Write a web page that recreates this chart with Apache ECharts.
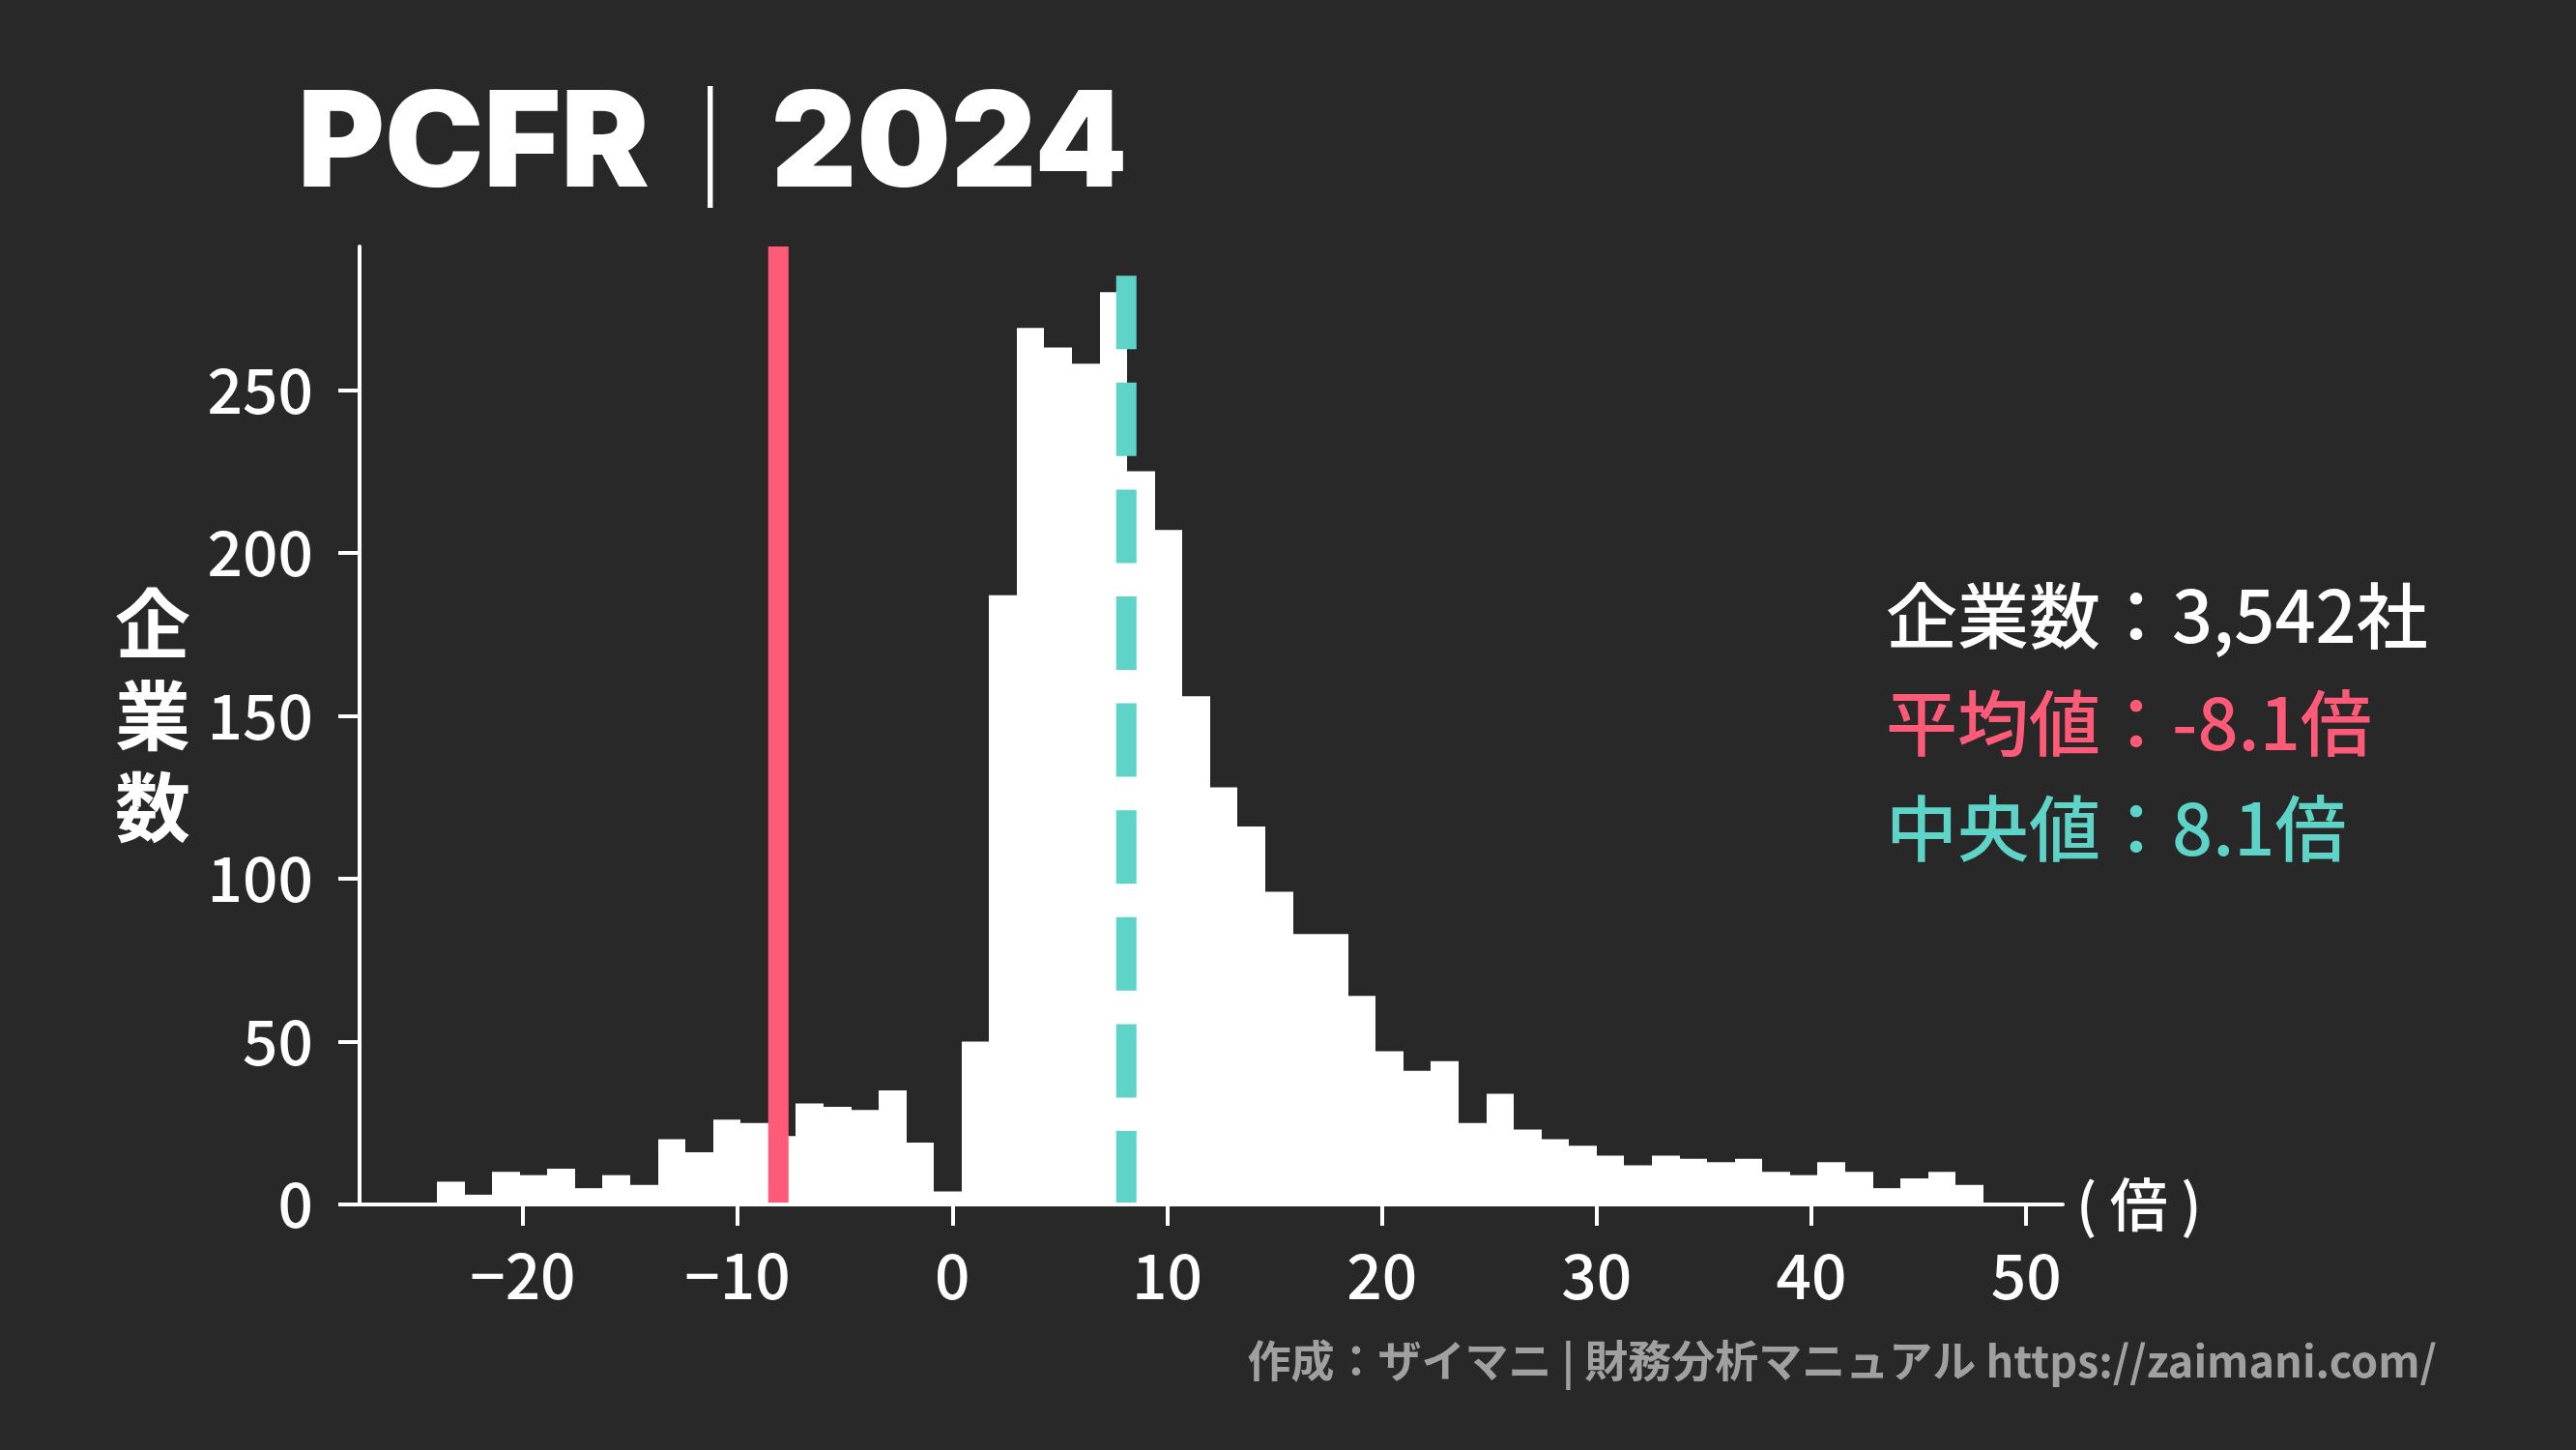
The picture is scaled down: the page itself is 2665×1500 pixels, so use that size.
<!DOCTYPE html>
<html>
<head>
<meta charset="utf-8">
<script src="https://cdn.jsdelivr.net/npm/echarts@6/dist/echarts.min.js"></script>
<style>
html,body{margin:0;padding:0;background:#282828;}
#c{width:2665px;height:1500px;}
</style>
</head>
<body>
<div id="c"></div>
<script>
// ---- data ----
const binStart = -24;          // left edge of first histogram bin
const binEnd = 48;             // right edge of last histogram bin
const counts = [7,3,10,9,11,5,9,6,20,16,26,25,21,31,30,29,35,19,4,50,187,
                269,263,258,280,225,207,156,128,116,96,83,83,64,
                47,41,44,25,34,23,20,18,15,12,15,14,13,14,10,9,13,10,5,8,10,6];
const xTicks = [-20,-10,0,10,20,30,40,50];
const yTicks = [0,50,100,150,200,250];
const xRange = [-27.6, 51.7];
const yRange = [0, 294];
const meanValue = -8.1;
const medianValue = 8.1;
const titleText = ['PCFR', '｜', '2024'];
const infoLines = ['企業数：3,542社', '平均値：-8.1倍', '中央値：8.1倍'];
const yName = '企業数';
const xName = '( 倍 )';
const footer = '作成：ザイマニ | 財務分析マニュアル https://zaimani.com/';

// ---- chart ----
const PINK = '#FF5A78', TEAL = '#5ED4C8', WHITE = '#FFFFFF';
const numFont = "'Noto Sans CJK JP', sans-serif";
const cjkFont = "'Noto Sans CJK JP', sans-serif";

const binWidth = (binEnd - binStart) / counts.length;
const histData = counts.map((c, i) => [binStart + i * binWidth, binStart + (i + 1) * binWidth, c]);

function renderHist(params, api) {
  const a = api.coord([api.value(0), api.value(2)]);
  const b = api.coord([api.value(1), 0]);
  const x1 = Math.round(a[0]), x2 = Math.round(b[0]);
  return {
    type: 'rect',
    shape: { x: x1, y: a[1], width: x2 - x1, height: b[1] - a[1] },
    style: { fill: WHITE }
  };
}

const chart = echarts.init(document.getElementById('c'), null, { renderer: 'canvas', width: 2665, height: 1500 });

const option = {
  backgroundColor: '#282828',
  animation: false,
  grid: { left: 372, right: 531, top: 255, bottom: 254, containLabel: false },
  xAxis: {
    type: 'value', min: xRange[0], max: xRange[1], z: 10,
    axisLine: { show: true, onZero: false, lineStyle: { color: WHITE, width: 4 } },
    axisTick: { show: true, length: 22, customValues: xTicks, lineStyle: { color: WHITE, width: 4 } },
    axisLabel: {
      customValues: xTicks, color: WHITE, fontSize: 64, fontWeight: 500, fontFamily: numFont, margin: 42,
      formatter: v => (v < 0 ? '\u2212' + Math.abs(v) : String(v))
    },
    splitLine: { show: false },
    name: xName, nameLocation: 'end', nameGap: 14,
    nameTextStyle: { color: WHITE, fontSize: 60, fontWeight: 500, fontFamily: numFont, verticalAlign: 'middle', align: 'left' }
  },
  yAxis: {
    type: 'value', min: yRange[0], max: yRange[1], z: 10,
    axisLine: { show: true, onZero: false, lineStyle: { color: WHITE, width: 4 } },
    axisTick: { show: true, length: 22, customValues: yTicks, lineStyle: { color: WHITE, width: 4 } },
    axisLabel: { customValues: yTicks, color: WHITE, fontSize: 64, fontWeight: 500, fontFamily: numFont, margin: 48 },
    splitLine: { show: false }
  },
  series: [
    { type: 'custom', renderItem: renderHist, data: histData, encode: { x: [0, 1], y: 2 }, z: 2, silent: true },
    { type: 'line', data: [[meanValue, yRange[0]], [meanValue, yRange[1]]], symbol: 'none', z: 3, silent: true,
      lineStyle: { color: PINK, width: 21, cap: 'butt' } },
    { type: 'line', data: [[medianValue, yRange[0]], [medianValue, yRange[1]]], symbol: 'none', z: 3, silent: true,
      lineStyle: { color: TEAL, width: 21, cap: 'butt', type: [76, 34.6] } }
  ],
  graphic: [
    { type: 'text', x: 308, y: 152, z: 20,
      style: {
        text: '{a|' + titleText[0] + '}{b|' + titleText[1] + '}{a|' + titleText[2] + '}',
        align: 'left', verticalAlign: 'middle',
        rich: {
          a: { fontFamily: 'Inter', fontWeight: 900, fontSize: 137, fill: WHITE },
          b: { fontFamily: cjkFont, fontWeight: 'normal', fontSize: 126, fill: WHITE }
        }
      } },
    { type: 'text', x: 158, y: 740, z: 20,
      style: { text: yName.split('').join('\n'), align: 'center', verticalAlign: 'middle',
        fontSize: 78, lineHeight: 95, fontWeight: 'bold', fontFamily: cjkFont, fill: WHITE } },
    { type: 'text', x: 1951, y: 637, z: 20,
      style: { text: infoLines[0], align: 'left', verticalAlign: 'middle', fontSize: 74, fontWeight: 500, fontFamily: numFont, fill: WHITE } },
    { type: 'text', x: 1951, y: 748, z: 20,
      style: { text: infoLines[1], align: 'left', verticalAlign: 'middle', fontSize: 74, fontWeight: 500, fontFamily: numFont, fill: PINK } },
    { type: 'text', x: 1951, y: 857, z: 20,
      style: { text: infoLines[2], align: 'left', verticalAlign: 'middle', fontSize: 74, fontWeight: 500, fontFamily: numFont, fill: TEAL } },
    { type: 'text', x: 2521, y: 1408, z: 20,
      style: { text: footer, align: 'right', verticalAlign: 'middle', fontSize: 45, fontWeight: 'bold', fontFamily: cjkFont, fill: '#A0A0A0' } }
  ]
};
chart.setOption(option);
</script>
</body>
</html>
